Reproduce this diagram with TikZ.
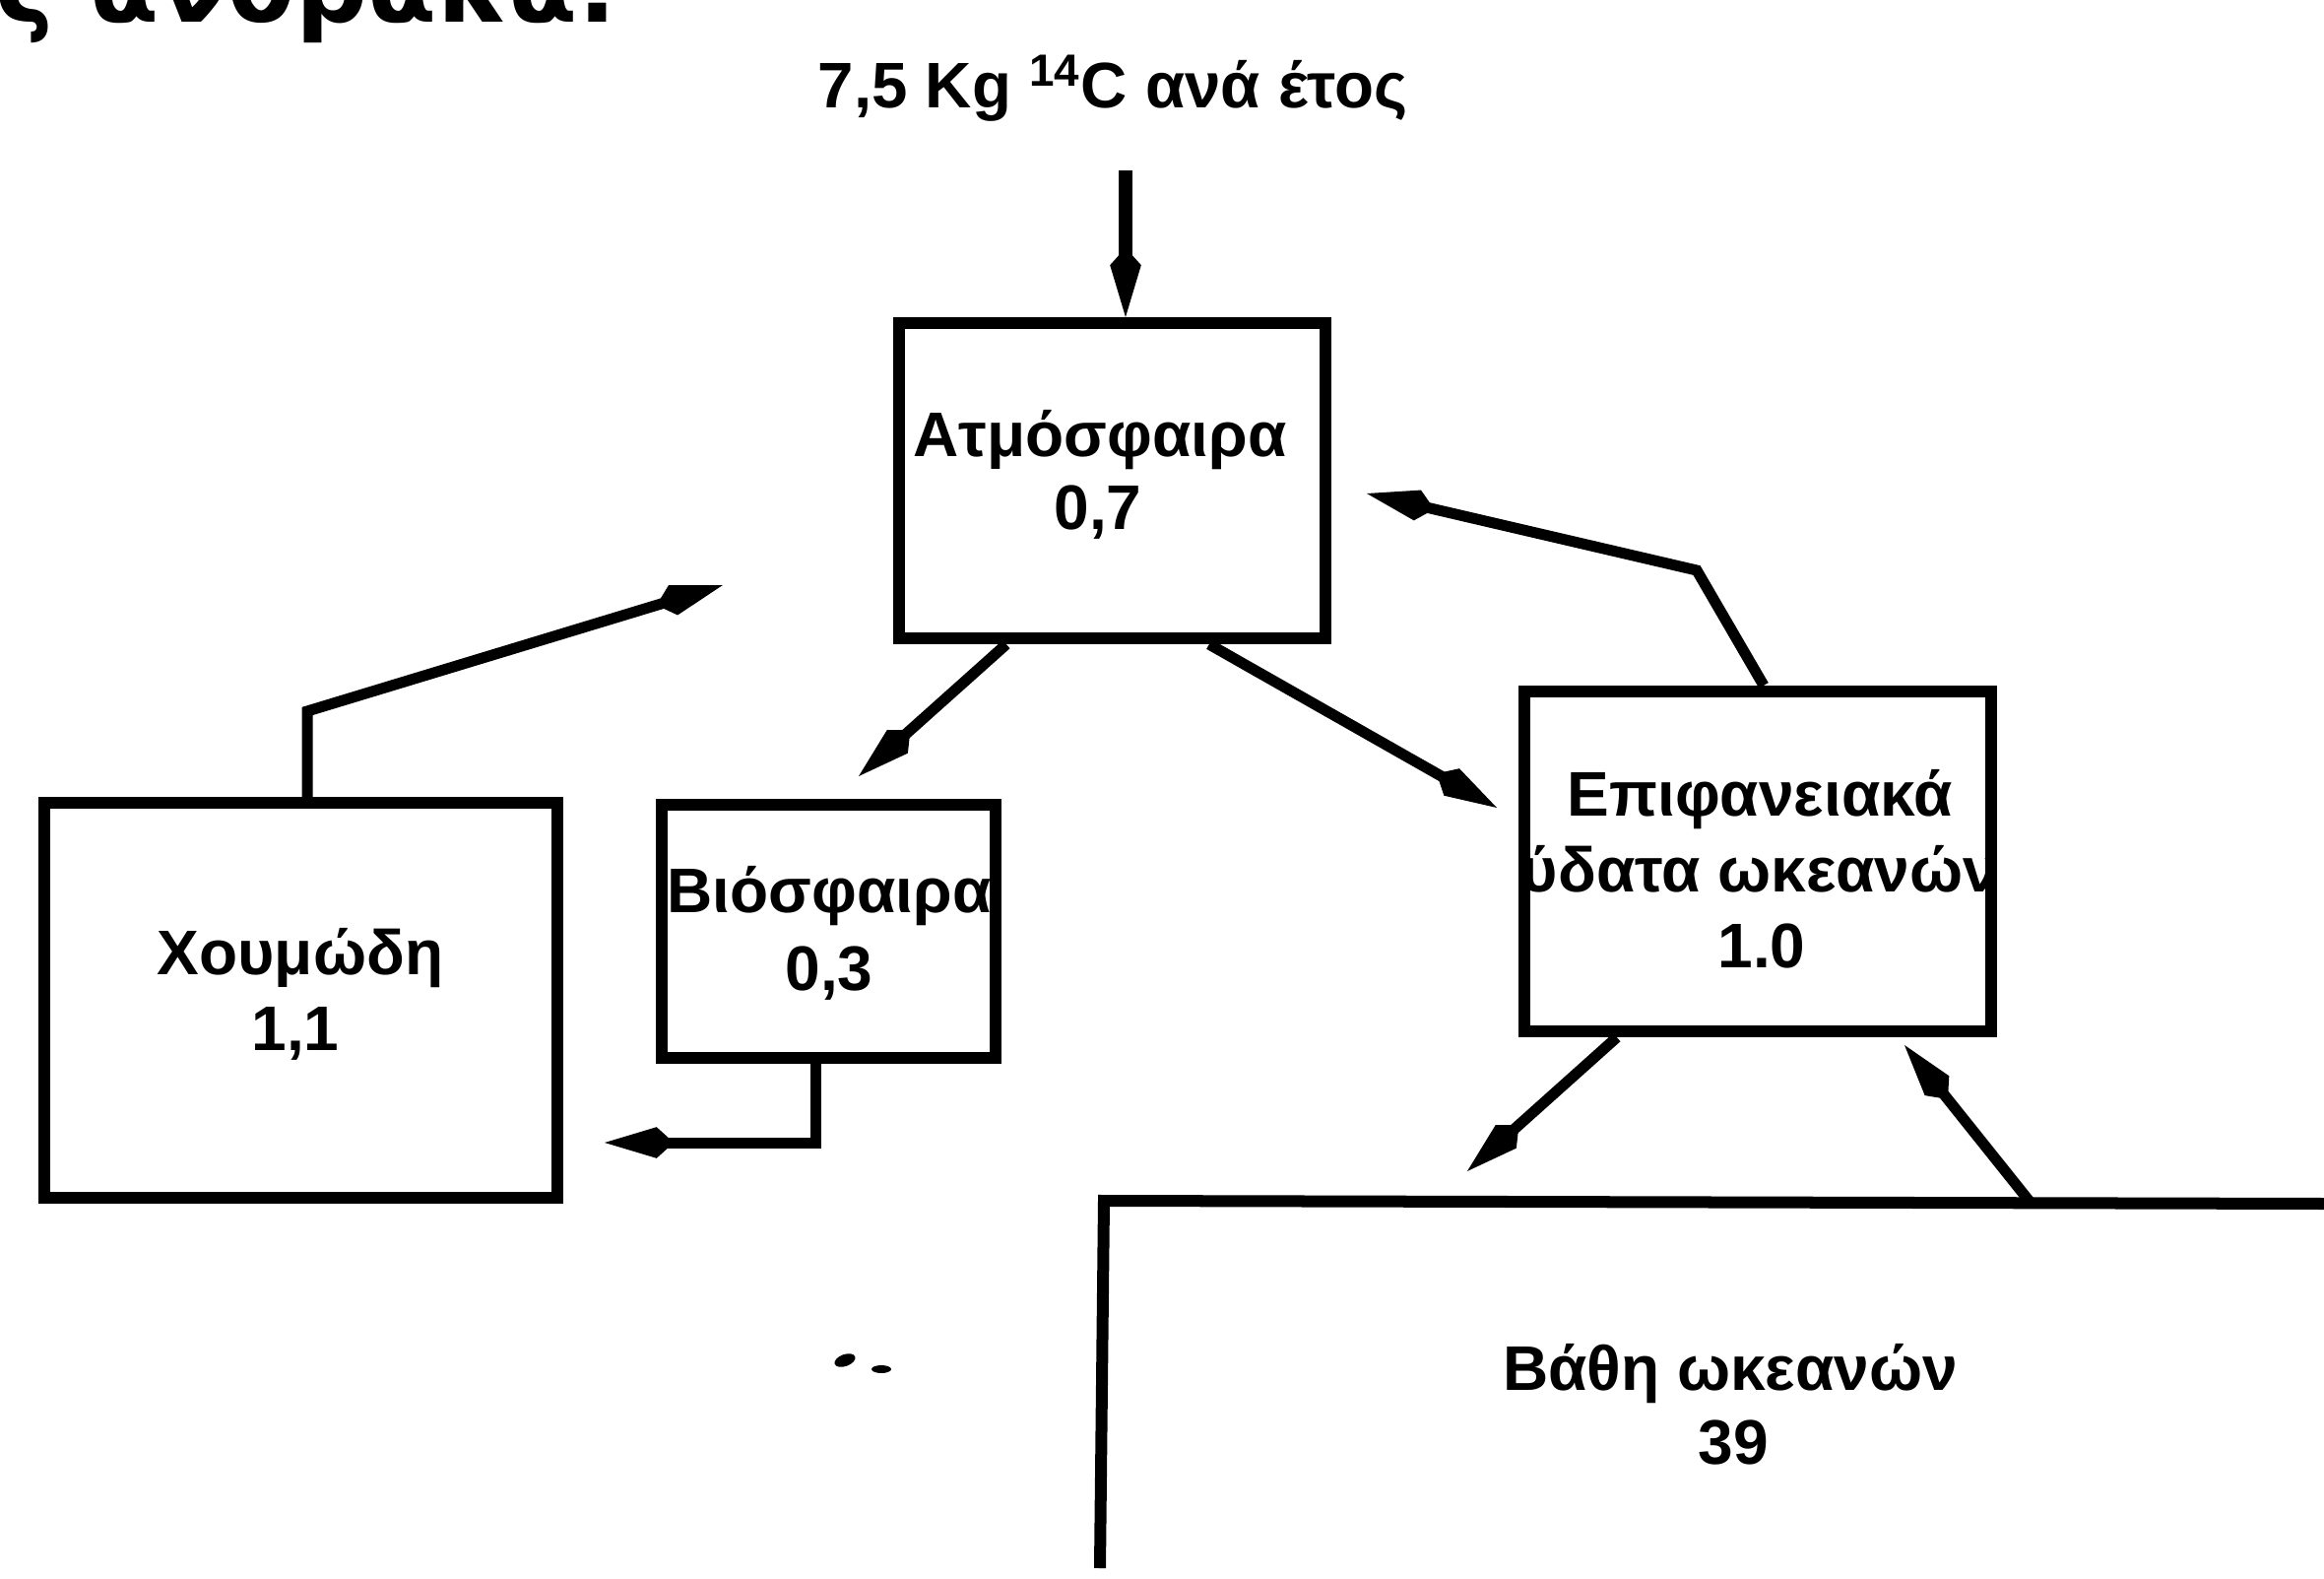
\documentclass[tikz,border=0pt]{standalone}
\usepackage{fontspec}
\setmainfont{Liberation Sans}
\newfontfamily\titlefont{DejaVu Sans}
\usetikzlibrary{arrows.meta,calc}
\begin{document}
\begin{tikzpicture}[x=0.01cm,y=-0.01cm,
  stock/.style={draw, rectangle, inner sep=0pt, line width=0.12cm},
  lbl/.style={anchor=base, inner sep=0pt, font=\bfseries\fontsize{18.2}{22}\selectfont},
  flow/.style={line width=0.11cm, line join=miter, -{Kite[length=20pt,width=9pt,inset=5pt]}}]
\useasboundingbox (0,0) rectangle (2360,1603);
\clip (0,0) rectangle (2360,1603);
\fill[white] (0,0) rectangle (2360,1603);

% title fragment (cut at the top edge)
\node[anchor=base east, inner sep=0pt, font=\titlefont\bfseries\fontsize{29}{34}\selectfont] (ttl) at (628,23) {ς άνθρακα:};

% input label
\node[anchor=base, inner sep=0pt, font=\bfseries\fontsize{18.6}{22}\selectfont] (inp) at (1130,110) {7,5 Kg \textsuperscript{14}C ανά έτος};

% boxes
\node[stock, minimum width=4.33cm, minimum height=3.20cm] (atm) at (1129.5,488) {};
\node[stock, minimum width=5.21cm, minimum height=4.01cm] (hum) at (305.5,1015.5) {};
\node[stock, minimum width=3.39cm, minimum height=2.57cm] (bio) at (841.5,945.5) {};
\node[stock, minimum width=4.74cm, minimum height=3.45cm] (surf) at (1785,874.5) {};
\coordinate (deepc) at (1121,1219);
\coordinate (deepr) at (2360,1222);
\coordinate (deepb) at (1117,1592);
\draw[line width=0.12cm, line join=miter] (deepr) -- (deepc) -- (deepb);

% texts
\node[lbl] (atmT) at (1117,463) {Ατμόσφαιρα};
\node[lbl] (atmV) at (1115,537) {0,7};
\node[lbl] (humT) at (305,989) {Χουμώδη};
\node[lbl] (humV) at (300,1066) {1,1};
\node[lbl] (bioT) at (842,926) {Βιόσφαιρα};
\node[lbl] (bioV) at (842,1005) {0,3};
\node[lbl] (surfT) at (1787,828) {Επιφανειακά};
\node[lbl] (surfU) at (1787,905) {ύδατα ωκεανών};
\node[lbl] (surfV) at (1789,982) {1.0};
\node[lbl] (deepT) at (1757,1411) {Βάθη ωκεανών};
\node[lbl] (deepV) at (1760,1486) {39};

% free ends
\coordinate (inTop) at (1143,173);
\coordinate (bioTip) at (872,788);
\coordinate (surfTip) at (1520,820);
\coordinate (atmBend) at (1723,579);
\coordinate (atmTip) at (1388,501);
\coordinate (humBend) at (312,722);
\coordinate (humTip) at (734,594);
\coordinate (bioBend) at (828,1160);
\coordinate (bioOut) at (614,1160);
\coordinate (deepTip) at (1490,1189);
\coordinate (deepS) at (2062,1221);
\coordinate (surfBTip) at (1934,1061);

% connectors
\draw[flow, line width=0.14cm] (inTop) -- (atm.north -| inTop);
\draw[flow] ($(atm.south west)+(115,0)$) -- (bioTip);
\draw[flow] ($(atm.south west)+(321,0)$) -- (surfTip);
\draw[flow] ($(surf.north)+(6,0)$) -- (atmBend) -- (atmTip);
\draw[flow] ($(hum.north)+(6.5,0)$) -- (humBend) -- (humTip);
\draw[flow] ($(bio.south)+(-13.5,0)$) -- (bioBend) -- (bioOut);
\draw[flow] ($(surf.south west)+(100,0)$) -- (deepTip);
\draw[flow] (deepS) -- (surfBTip);

% specks
\fill[rotate around={20:(858,1381)}] (858,1381) ellipse (11 and 6);
\fill (895,1390) ellipse (10 and 4);
\end{tikzpicture}
\end{document}
